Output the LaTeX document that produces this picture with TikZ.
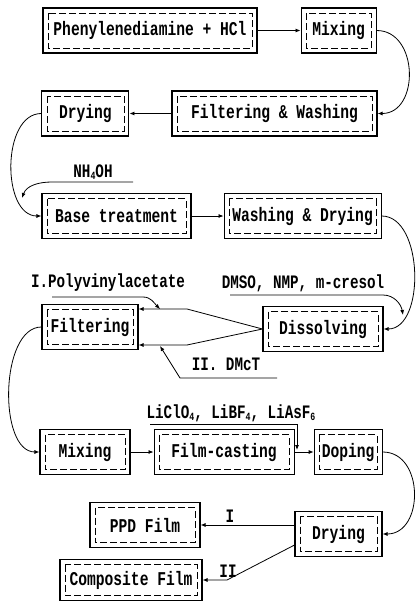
\documentclass[tikz,border=0pt]{standalone}
\usepackage{fontspec}
\usetikzlibrary{positioning,arrows.meta}
\newfontfamily\boxfont{Liberation Mono}[FakeStretch=0.75]
\newcommand\chem[1]{\raisebox{-2.5pt}{\fontsize{11}{11}\selectfont #1}}

\begin{document}
\begin{tikzpicture}[x=1pt, y=-1pt, line width=0.8pt, >={Latex[length=5pt,width=4pt]},
    main/.style = {draw, line width=1.1pt, minimum height=45pt, inner sep=0pt,
        font=\boxfont\bfseries\fontsize{19.5}{22}\selectfont,
        path picture={\draw[line width=0.5pt, dash pattern=on 7pt off 3pt]
            ([shift={(5pt,-5pt)}]path picture bounding box.north west) rectangle
            ([shift={(-5pt,5pt)}]path picture bounding box.south east);}},
    lab/.style = {inner sep=1pt, font=\boxfont\bfseries\fontsize{19}{22}\selectfont}]
    \useasboundingbox (0,0) rectangle (415,605);
    % process boxes
    \node[main, minimum width=214pt] (phen) at (150,30.5) {Phenylenediamine + HCl};
    \node[main, minimum width=75pt] (mix) [right=43pt of phen] {Mixing};
    \node[main, minimum width=205pt] (filwash) at (274.5,113.5) {Filtering \& Washing};
    \node[main, minimum width=87pt] (dry) [left=42pt of filwash] {Drying};
    \node[main, minimum width=149pt] (base) at (116.5,216) {Base treatment};
    \node[main, minimum width=157pt] (washdry) [right=32pt of base] {Washing \& Drying};
    \node[main, minimum width=96pt] (filt) at (90,327) {Filtering};
    \node[main, minimum width=120pt] (diss) at (323,329) {Dissolving};
    \node[main, minimum width=90pt] (mixb) at (85,452) {Mixing};
    \node[main, minimum width=140pt] (cast) [right=23pt of mixb] {Film-casting};
    \node[main, minimum width=68pt] (dop) [right=19pt of cast] {Doping};
    \node[main, minimum width=87pt] (dryb) at (338.5,534) {Drying};
    \node[main, minimum width=110pt] (ppd) at (145,525) {PPD Film};
    \node[main, minimum width=142pt, minimum height=41pt] (comp) at (131,580) {Composite Film};
    % additives
    \node[lab] (nh) at (93,172) {NH\chem{4}OH};
    \node[lab] (pva) at (108,283) {I.Polyvinylacetate};
    \node[lab] (dmso) at (303,283) {DMSO, NMP, m-cresol};
    \node[lab] (dmct) at (226,364) {II. DMcT};
    \node[lab] (licl) at (231,413) {LiClO\chem{4}, LiBF\chem{4}, LiAsF\chem{6}};
    \node[lab] (one) at (230,516) {I};
    \node[lab] (two) at (228,571) {II};
    \coordinate (nhR) at (133,182);
    \coordinate (nhL) at (52,182);
    \coordinate (nhTip) at (22,198);
    \coordinate (pvaL) at (52,297);
    \coordinate (pvaR) at (143,297);
    \coordinate (pvaTip) at (160,309);
    \coordinate (dmsoL) at (230,295);
    \coordinate (dmsoR) at (383,295);
    \coordinate (dmsoTip) at (403,315);
    \coordinate (dmctR) at (277,378);
    \coordinate (dmctL) at (180,378);
    \coordinate (dmctTip) at (160,346);
    \coordinate (liclL) at (150,424);
    \coordinate (liclR) at (297,424);
    \coordinate (liclTip) at (297,450);
    \coordinate (kinkA) at (187,309);
    \coordinate (kinkB) at (187,345);
    \coordinate (kinkC) at (227,580);
    % flow
    \draw[->] (phen) -- (mix);
    \draw[->] (mix.east) to[out=0, in=0, looseness=1.3] (filwash.east);
    \draw[->] (filwash) -- (dry);
    \draw[->] (dry.west) to[out=180, in=180] (base.west);
    \draw[->] (base) -- (washdry);
    \draw[->] (washdry.east) to[out=0, in=0, looseness=0.95] (diss.east);
    \draw[->] (diss.west) -- (kinkA) -- (filt.east |- kinkA);
    \draw[->] (diss.west) -- (kinkB) -- (filt.east |- kinkB);
    \draw[->] (filt.west) to[out=180, in=180, looseness=0.85] (mixb.west);
    \draw[->] (mixb) -- (cast);
    \draw[->] (cast) -- (dop);
    \draw[->] (dop.east) to[out=0, in=0, looseness=1.3] (dryb.east);
    \draw[->] (dryb.west |- ppd.east) -- (ppd.east);
    \draw[->] ([yshift=12pt]dryb.south west) -- (kinkC) -- (comp.east);
    % feeds
    \draw[->] (nhR) -- (nhL) to[out=180, in=70] (nhTip);
    \draw[->] (pvaL) -- (pvaR) to[out=0, in=135] (pvaTip);
    \draw[->] (dmsoL) -- (dmsoR) to[out=0, in=100] (dmsoTip);
    \draw[->] (dmctR) -- (dmctL) -- (dmctTip);
    \draw[->] (liclL) -- (liclR) -- (liclTip);
\end{tikzpicture}
\end{document}
